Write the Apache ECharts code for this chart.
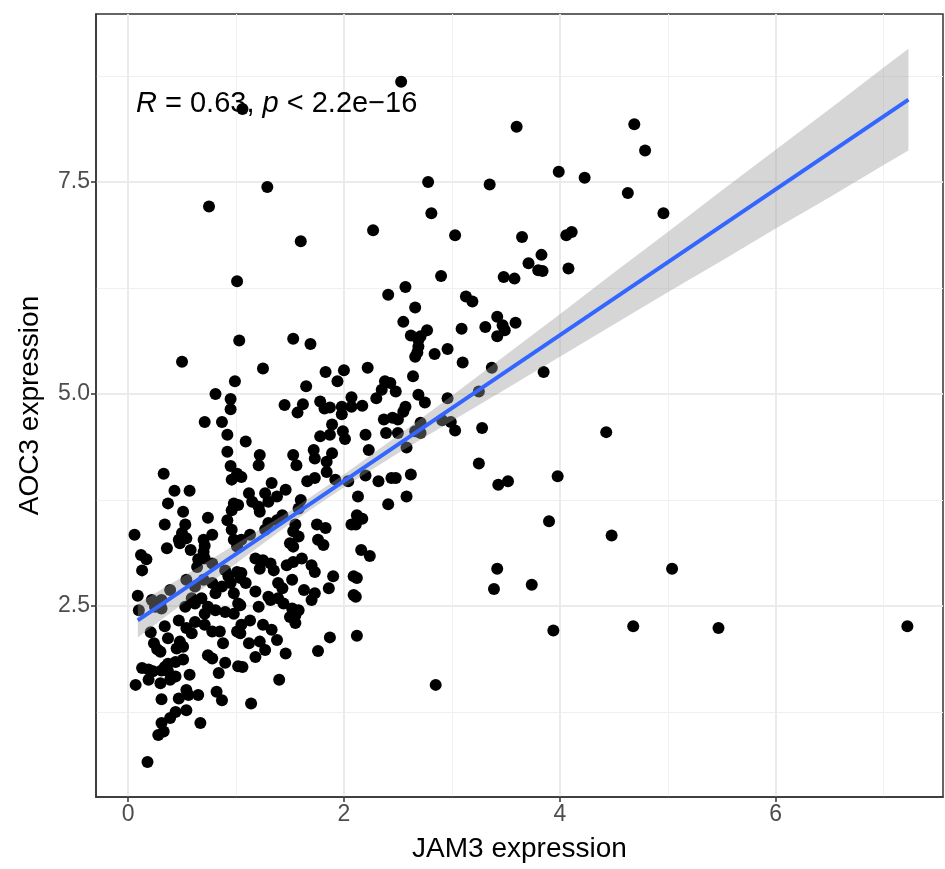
<!DOCTYPE html>
<html><head><meta charset="utf-8">
<script src="https://cdn.jsdelivr.net/npm/echarts@6/dist/echarts.min.js"></script>
<style>html,body{margin:0;padding:0;background:#fff}#c{width:945px;height:869px}</style>
</head><body><div id="c"></div><script>
// JAM3 expression (x) and AOC3 expression (y)
const jam3 = [2.53,1.06,3.60,4.69,4.79,3.99,4.23,2.78,3.35,1.29,0.75,4.63,2.81,4.96,2.27,3.03,1.60,4.11,4.06,3.65,
3.83,3.71,3.80,3.84,4.08,3.48,3.58,2.90,1.01,2.57,2.41,3.13,3.19,2.66,3.42,3.47,3.49,3.42,3.59,3.31,
2.55,2.77,3.09,2.62,2.69,2.71,2.69,2.68,2.66,2.84,2.96,3.10,2.22,3.37,2.38,2.43,2.64,1.53,1.69,1.03,
1.25,0.50,3.85,2.48,2.35,2.30,2.17,2.69,2.75,2.96,3.25,2.57,2.55,2.37,2.45,2.50,2.71,2.91,2.99,3.03,
2.20,2.39,2.50,2.66,2.71,3.28,2.23,2.58,3.25,2.20,2.32,2.44,2.48,2.62,2.13,2.41,2.58,2.17,2.11,2.16,
2.24,2.12,2.11,3.43,3.52,3.42,3.39,3.74,3.94,3.98,3.90,4.43,4.48,5.04,4.68,5.47,7.22,2.85,2.12,
1.83,2.00,1.94,1.65,0.99,1.45,1.62,1.57,1.78,1.82,1.87,1.98,1.98,2.07,2.07,1.89,1.78,1.87,1.99,2.01,1.09,
0.81,0.95,0.95,0.71,0.87,0.92,0.92,0.95,0.96,0.33,0.43,0.57,0.37,0.51,0.98,0.96,0.74,0.92,0.34,0.53,
0.50,0.47,0.54,0.48,0.06,0.78,0.70,0.71,0.96,0.98,0.36,0.58,0.70,0.12,0.17,0.13,0.65,0.64,0.71,0.78,
0.90,0.93,1.01,0.95,0.98,0.87,0.54,0.62,0.70,0.78,0.81,0.68,0.59,0.39,0.31,0.09,0.22,0.10,0.25,0.31,
0.53,0.62,0.74,0.81,0.71,0.90,0.98,1.02,0.47,0.54,0.62,0.71,0.78,0.85,1.01,0.59,0.34,0.21,0.37,0.48,
0.45,0.51,0.88,0.74,0.78,0.24,0.27,0.30,0.51,0.44,0.37,0.34,0.90,1.02,0.13,0.19,0.23,0.31,0.37,0.84,
0.44,0.57,0.19,0.30,0.39,0.07,0.82,0.87,0.54,0.47,0.56,0.65,0.31,0.54,0.44,0.39,0.31,0.67,0.28,0.33,0.18,
1.04,1.21,1.32,1.44,1.52,1.58,1.55,1.50,1.70,1.13,1.05,1.04,1.25,1.33,1.38,1.55,1.12,1.22,1.27,1.18,
1.46,1.87,1.76,1.06,1.40,1.14,
1.22,1.21,1.53,1.56,1.72,1.89,1.84,1.73,1.66,1.73,1.84,1.92,2.04,1.01,1.05,1.33,1.27,1.46,1.38,1.30,
1.12,1.02,1.15,1.21,1.22,1.60,1.58,1.43,1.38,1.30,1.27,1.13,1.05,1.01,1.55,1.53,1.58,1.75,1.83,1.76,
1.81,1.50,1.53,2.07,2.12,1.18,1.25,1.32,1.35,1.22,1.47,1.53,1.61,1.70,1.73,1.05,1.09,1.04,1.39,1.43,
1.39,1.30,1.52,1.18,1.63,1.73,1.90,1.86,2.09,2.09];
const aoc3 = [8.68,8.36,8.15,8.18,7.87,7.62,7.55,7.50,7.47,7.44,7.21,7.37,7.13,7.13,6.93,6.87,6.80,6.91,6.87,6.85,
6.64,6.54,6.46,6.45,6.48,6.38,6.36,6.39,6.33,6.26,6.17,6.15,6.09,6.02,5.91,5.81,5.75,5.68,5.84,5.79,
5.85,5.75,5.77,5.69,5.64,5.68,5.56,5.49,5.44,5.47,5.53,5.37,5.31,5.31,5.15,5.13,5.21,5.65,5.59,5.63,
5.30,5.38,5.26,5.03,5.05,4.95,4.86,4.99,4.90,4.95,5.03,4.85,4.79,4.70,4.72,4.70,4.66,4.69,4.67,4.57,
4.52,4.54,4.54,4.56,4.54,4.60,4.34,4.37,4.18,4.04,3.97,4.01,4.01,4.05,3.79,3.70,3.79,3.53,3.46,3.16,
3.09,2.83,2.61,3.93,3.97,2.94,2.70,2.75,2.21,4.03,3.50,4.55,3.33,2.94,2.26,2.24,2.26,1.57,2.15,
5.26,5.28,5.15,5.09,5.15,4.87,4.88,4.78,4.91,4.83,4.84,4.85,4.76,4.96,4.85,4.64,4.50,4.52,4.56,4.47,4.44,
5.00,4.94,4.82,4.67,4.67,4.52,4.32,4.15,3.99,4.06,3.86,3.86,3.71,3.61,3.71,3.63,3.54,3.51,3.46,3.46,
3.36,3.28,3.30,3.24,3.34,3.34,3.28,3.21,3.40,3.28,3.18,3.16,3.14,3.10,3.05,2.92,3.05,2.96,3.06,3.00,
2.92,2.85,2.90,2.77,2.65,2.73,2.81,2.73,2.81,2.77,2.65,2.59,2.59,2.69,2.57,2.62,2.57,2.45,2.49,2.47,
2.49,2.53,2.49,2.45,2.41,2.43,2.41,2.53,2.33,2.24,2.31,2.28,2.20,2.20,2.20,2.18,2.26,2.19,2.12,2.08,
2.00,2.02,2.06,1.92,1.88,2.06,1.99,1.96,1.87,1.84,1.82,1.78,1.83,1.79,1.77,1.75,1.73,1.74,1.73,1.71,
1.67,1.69,1.63,1.59,1.63,1.57,1.49,1.39,1.51,1.41,1.45,1.45,1.40,1.27,1.25,1.18,1.12,1.12,0.98,1.02,0.66,
2.51,2.49,2.57,2.53,2.47,2.45,2.39,2.37,2.57,2.33,2.28,2.18,2.28,2.22,2.10,2.30,2.06,2.08,1.98,1.90,
1.94,2.13,1.97,1.78,1.63,1.35,
4.28,4.16,4.28,4.16,4.34,4.30,4.20,4.24,3.97,4.01,4.08,3.99,3.97,4.06,4.02,3.95,3.83,3.87,3.79,3.73,
3.83,3.69,3.73,3.67,3.61,3.75,3.65,3.57,3.51,3.48,3.40,3.34,3.28,3.20,3.46,3.38,3.32,3.46,3.42,3.28,
3.22,3.24,3.20,3.46,3.57,3.06,3.04,3.00,2.92,2.94,2.98,3.02,3.06,2.98,2.90,2.89,2.77,2.83,2.77,2.71,
2.59,2.61,2.81,2.67,2.69,2.65,2.85,2.71,2.85,2.63];

// linear fit and its confidence band
const fitX = [0.09, 7.23];
const fitY = [2.33, 8.47];
const bandX    = [0.09,0.5,1,1.5,2,2.5,3,3.5,4,4.5,5,5.5,6,6.5,7,7.23];
const bandLow  = [2.13,2.52,3.00,3.47,3.90,4.30,4.68,5.06,5.44,5.82,6.20,6.57,6.95,7.32,7.70,7.87];
const bandHigh = [2.53,2.84,3.23,3.62,4.05,4.51,4.98,5.46,5.94,6.43,6.91,7.40,7.88,8.36,8.85,9.07];

// axes
const xRange = [-0.297, 7.55];
const yRange = [0.248, 9.48];
const xTicks = [0, 2, 4, 6];
const xMinor = [1, 3, 5, 7];
const yTicks = [2.5, 5.0, 7.5];
const yMinor = [1.25, 3.75, 6.25, 8.75];
const xTitle = 'JAM3 expression';
const yTitle = 'AOC3 expression';
const statText = ['R', ' = 0.63, ', 'p', ' < 2.2e\u221216'];

const FONT = '"Liberation Sans", Arial, Helvetica, sans-serif';
const points = jam3.map((v, i) => [v, aoc3[i]]);

const chart = echarts.init(document.getElementById('c'), null, {renderer: 'canvas'});
const majorSplit = {show: true, lineStyle: {color: '#EBEBEB', width: 2}};
const minorSplit = {show: true, lineStyle: {color: '#F0F0F0', width: 1}};

chart.setOption({
  animation: false,
  backgroundColor: '#fff',
  grid: {left: 96, right: 2, top: 14, bottom: 72, show: true, borderColor: '#333333', borderWidth: 1.5, backgroundColor: 'transparent'},
  xAxis: [
    {type: 'value', min: xRange[0], max: xRange[1], position: 'bottom',
     axisLine: {show: true, onZero: false, lineStyle: {color: '#333333', width: 1.5}},
     axisTick: {show: true, length: 5, customValues: xTicks, lineStyle: {color: '#333333', width: 1.5}},
     axisLabel: {show: true, customValues: xTicks, color: '#4D4D4D', fontSize: 23, fontFamily: FONT, margin: 6},
     splitLine: majorSplit,
     name: xTitle, nameLocation: 'middle', nameGap: 38,
     nameTextStyle: {color: '#000', fontSize: 28, fontFamily: FONT}},
    {type: 'value', min: xRange[0], max: xRange[1], position: 'bottom',
     axisLine: {show: false}, axisTick: {show: false, customValues: xMinor},
     axisLabel: {show: false, customValues: xMinor}, splitLine: minorSplit}
  ],
  yAxis: [
    {type: 'value', min: yRange[0], max: yRange[1], position: 'left',
     axisLine: {show: true, onZero: false, lineStyle: {color: '#333333', width: 1.5}},
     axisTick: {show: true, length: 5, customValues: yTicks, lineStyle: {color: '#333333', width: 1.5}},
     axisLabel: {show: true, customValues: yTicks, color: '#4D4D4D', fontSize: 23, fontFamily: FONT, margin: 6,
                 formatter: v => Number(v).toFixed(1)},
     splitLine: majorSplit,
     name: yTitle, nameLocation: 'middle', nameGap: 52, nameRotate: 90,
     nameTextStyle: {color: '#000', fontSize: 28, fontFamily: FONT}},
    {type: 'value', min: yRange[0], max: yRange[1], position: 'left',
     axisLine: {show: false}, axisTick: {show: false, customValues: yMinor},
     axisLabel: {show: false, customValues: yMinor}, splitLine: minorSplit}
  ],
  series: [
    {type: 'scatter', xAxisIndex: 0, yAxisIndex: 0, data: points, symbol: 'circle', symbolSize: 12,
     itemStyle: {color: '#000000', opacity: 1}, silent: true, z: 3},
    {type: 'custom', xAxisIndex: 0, yAxisIndex: 0, data: [[bandX[0], bandLow[0]]], silent: true, z: 4,
     renderItem: (params, api) => {
       const pts = [];
       for (let i = 0; i < bandX.length; i++) pts.push(api.coord([bandX[i], bandHigh[i]]));
       for (let i = bandX.length - 1; i >= 0; i--) pts.push(api.coord([bandX[i], bandLow[i]]));
       return {type: 'polygon', shape: {points: pts}, style: {fill: 'rgba(153,153,153,0.4)', stroke: null}};
     }},
    {type: 'line', xAxisIndex: 0, yAxisIndex: 0, data: fitX.map((v, i) => [v, fitY[i]]), showSymbol: false,
     lineStyle: {color: '#3366FF', width: 4}, silent: true, z: 5}
  ],
  graphic: [
    {type: 'text', left: 136, top: 89, z: 10,
     style: {text: '{i|' + statText[0] + '}' + statText[1] + '{i|' + statText[2] + '}' + statText[3],
             fontSize: 29, fontFamily: FONT, fill: '#000',
             rich: {i: {fontStyle: 'italic', fontSize: 29, fontFamily: FONT, fill: '#000'}}}}
  ]
});
</script></body></html>
